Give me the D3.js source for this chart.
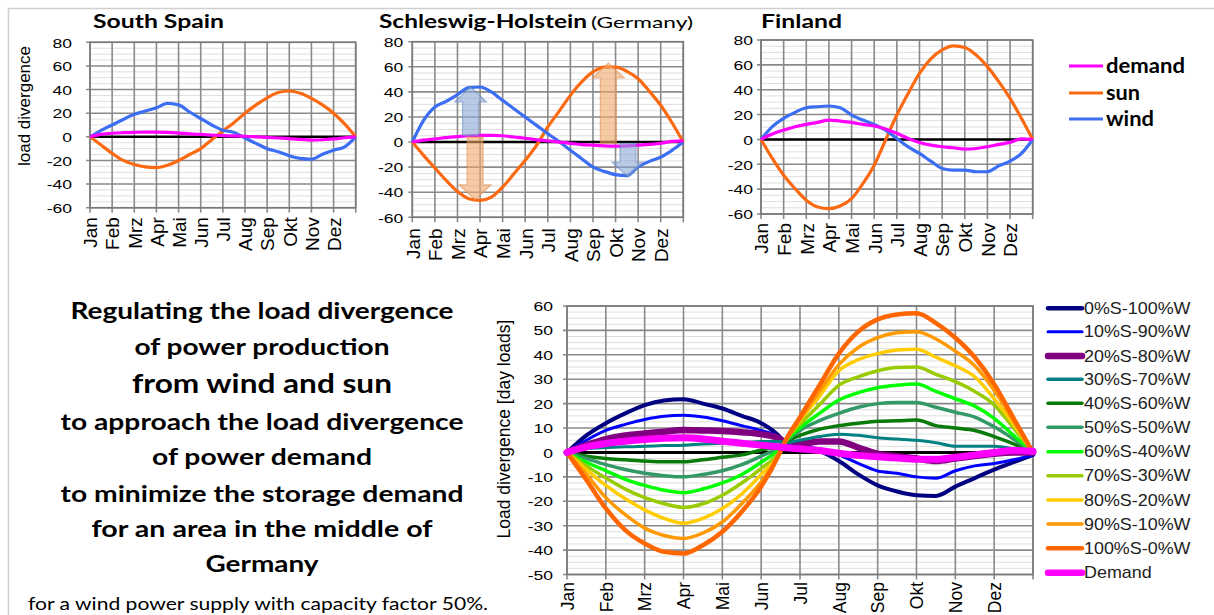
<!DOCTYPE html>
<html><head><meta charset="utf-8">
<script src="https://cdn.jsdelivr.net/npm/d3@7"></script>
<style>body{margin:0;background:#fff;overflow:hidden}svg{display:block}</style>
</head><body>
<script>
// ---------------- DATA ----------------
const monthLabels = ["Jan","Feb","Mrz","Apr","Mai","Jun","Jul","Aug","Sep","Okt","Nov","Dez"];
const topTicks = [80,60,40,20,0,-20,-40,-60];
const bottomTicks = [60,50,40,30,20,10,0,-10,-20,-30,-40,-50];
const topMonths = [0,0.5,1,1.5,2,2.5,3,3.5,4,4.5,5,5.5,6,6.5,7,7.5,8,8.5,9,9.5,10,10.5,11,11.5,12];
const topSeriesNames = ["demand","sun","wind"];

const spainDemand = [0,2,3,3.5,3.8,4,4,3.8,3.2,2.5,2,1.5,1,0.8,0.5,0,-0.5,-1,-1.5,-2.2,-2.8,-2.5,-1.8,-0.8,0];
const spainSun    = [0,-7,-14,-20,-23.5,-25.5,-26,-24,-20,-15,-10,-2.5,5,12,20,27,33,37.5,38.8,36.8,32.5,27,20,11,0];
const spainWind   = [0,5.5,10,14.7,19,21.8,24.6,28.3,27,21,15.5,10,5.6,3.7,-1,-5.6,-10,-12.7,-16,-18.3,-19,-14.7,-11.3,-8.5,0];

const shDemand = [0,1.5,2.5,3.5,4.3,5,5.3,5.3,5,4,3,1.8,1,0,-1,-2,-2.5,-3,-3.2,-3,-2.5,-1.8,-1,0.5,1];
const shSun    = [0,-10.6,-20.7,-30.6,-39.4,-45.2,-46.5,-43.9,-35.9,-25.3,-14.6,-2.7,12,24.5,37.2,47.9,55.9,59.8,59.8,56.4,50.5,40.4,29.3,15.4,0];
const shWind   = [0,17.3,28,32.4,37.8,43.4,43.9,39.9,33.2,26.6,19.9,13.3,6.6,0.5,-6.6,-13.3,-19.9,-23.4,-26,-26.8,-19.9,-15.4,-12,-6.6,0];

const finDemand = [0,4.3,7.5,10.2,12.1,13.7,15.6,14.8,13.7,12.1,10.8,8.4,4.9,0.8,-2.4,-4.6,-5.9,-6.7,-7.8,-7.3,-5.9,-4,-2.4,0.5,0];
const finSun    = [0,-15.3,-28.8,-39.5,-48.9,-54.3,-55.6,-53.5,-47.6,-35.5,-20.7,-0.5,19.6,37,53.2,64.8,72,75.3,74,68,58.6,46.5,33,17,0];
const finWind   = [0,10.3,17,21.8,25.5,26.3,26.9,25.5,19.6,15.6,12,7.5,0.8,-6,-11.3,-17.5,-23.4,-24.7,-24.7,-26,-26,-21.3,-17.5,-11.3,0];

// arrows in the Schleswig-Holstein panel: month position, start value, end value, kind
const shArrows = [
  {month:2.58, from:5,  to:44,  kind:"wind"},
  {month:2.78, from:4,  to:-46, kind:"sun"},
  {month:8.68, from:-1, to:63,  kind:"sun"},
  {month:9.55, from:-1, to:-28, kind:"wind"}
];

const mixMonths = [0,0.5,1,1.5,2,2.5,3,3.5,4,4.5,5,5.5,5.6,6,6.5,7,7.5,8,8.5,9,9.5,10,10.5,11,11.5,12];
const mixNames = ["0%S-100%W","10%S-90%W","20%S-80%W","30%S-70%W","40%S-60%W","50%S-50%W","60%S-40%W","70%S-30%W","80%S-20%W","90%S-10%W","100%S-0%W","Demand"];
const mix0   = [0,7,12,16,19.4,21.3,21.8,20,18,15,12,6,4,2,0.5,-3.5,-9,-13.5,-16,-17.5,-17.8,-14,-10.5,-7,-4,-1];
const mix10  = [0,5,9,11.5,13.5,14.8,15.2,14.5,13,11,9,6,4,2.5,1.5,-1,-4.5,-7.6,-8.5,-10,-10.6,-7.5,-5.5,-4.5,-3,-1];
const mix20  = [0,3,5.5,7,7.8,8.5,9.2,9,8.8,8.3,7.5,5.5,4,3.5,4.5,4.5,2,-0.5,-1.5,-2.5,-3.5,-2.5,-1.5,-0.5,0,0];
const mix30  = [0,1.5,2,2.3,2.5,2.8,3,3.5,3.8,4,4.5,4.5,4,5,6.5,7.5,7,6,5.5,5,4,2.5,2.5,2.5,1.5,0];
const mix40  = [0,-1.5,-2.5,-3,-3.5,-3.8,-3.8,-3,-2,-1,1,3,4,7,9.5,11,12,12.8,13,13.3,11,10,9,6.5,3.5,0];
const mix50  = [0,-2.5,-5,-7,-8.5,-9.5,-10,-9,-7.5,-5,-1.5,2.5,4,9,13,16,18.5,20,20.5,20.5,18.5,16.5,14.5,10.5,5.5,0];
const mix60  = [0,-4,-7.5,-11,-13.5,-15.5,-16.5,-15,-12.5,-9,-4,2,4,10,16,21.5,24.5,26.5,27.5,28,25,22,19,14,7,0];
const mix70  = [0,-5.5,-10.5,-15,-18.5,-21,-22.5,-21,-17.5,-12.5,-6.5,1,4,11.5,19.5,27.5,31,33.5,34.8,35,32,29,25,19.5,10,0];
const mix80  = [0,-7,-13.5,-19,-23.5,-27,-29,-27,-23,-17,-9,0.5,4,13,23,33.5,38,40.5,42,42.3,39,35.5,31,22,11.5,0];
const mix90  = [0,-9,-18.5,-25.5,-31,-34,-35.2,-33,-28.5,-21,-12,0.5,4,13.5,25,36,43,47,49,49.5,46.5,41.5,35.5,25.5,13,0];
const mix100 = [0,-11.3,-22.9,-31.8,-37.3,-40.7,-41.4,-38,-32.5,-24.3,-14,0.5,4,14.5,27.5,40.5,49.5,54.5,56.5,57,53,47,39,28,14,0];
const mixDemand = [0,2.3,3.7,4.6,5.3,5.8,6,5.5,4.6,3.8,3,2.2,2,1.5,0.8,-0.3,-1.2,-1.8,-2.3,-2.8,-2.8,-2,-1,0,0.8,0.5];

const textLines = ["Regulating the load divergence","of power production","from wind and sun","to approach the load divergence","of power demand","to minimize the storage demand","for an area in the middle of","Germany"];
const footnote = "for a wind power supply with capacity factor 50%.";

// ---------------- STYLES ----------------
const topColors = {demand:"#ff00ff", sun:"#fb6a12", wind:"#3b6ef2"};
const mixColors = ["#000080","#0000ff","#800080","#008080","#0a7a0a","#339966","#00ff00","#99cc00","#ffcc00","#ff9900","#ff6600","#ff00ff"];
const mixWidths = [4,3,6.5,3,3.5,3.5,3.5,3.5,3.5,3.5,4.5,7];
const legWidths = [4.5,3,6.5,3.5,3.5,3.5,3.5,3.5,3.5,3.5,4.5,6.5];
const FONT = "'Liberation Sans', Arial, sans-serif";
const TFONT = "Lato, 'Open Sans', sans-serif";

// ---------------- DRAW ----------------
const W = 1214, H = 615;
const svg = d3.select("body").append("svg").attr("width", W).attr("height", H);
svg.append("rect").attr("width", W).attr("height", H).attr("fill", "#fff");
svg.append("path").attr("d", "M8.5,615V8.5H1214").attr("fill", "none").attr("stroke", "#cfcfcf").attr("stroke-width", 1.5);

function panel(o) {
  const x = d3.scaleLinear().domain([0, 12]).range([o.left, o.right]);
  const y = d3.scaleLinear().domain(o.yDomain).range([o.bottom, o.top]);
  const g = svg.append("g");
  const minor = d3.range(o.yDomain[0], o.yDomain[1] + 0.001, o.minorStep).filter(v => !o.ticks.includes(v));
  g.selectAll(null).data(minor).join("line")
    .attr("x1", o.left).attr("x2", o.right).attr("y1", d => y(d)).attr("y2", d => y(d))
    .attr("stroke", "#dedede").attr("stroke-width", 1);
  g.selectAll(null).data(o.ticks).join("line")
    .attr("x1", o.left - 4).attr("x2", o.right).attr("y1", d => y(d)).attr("y2", d => y(d))
    .attr("stroke", "#8a8a8a").attr("stroke-width", 1.6);
  g.selectAll(null).data(d3.range(0, 13)).join("line")
    .attr("x1", d => x(d)).attr("x2", d => x(d)).attr("y1", o.top).attr("y2", o.bottom + 5)
    .attr("stroke", "#8a8a8a").attr("stroke-width", 1.6);
  g.append("rect").attr("x", o.left).attr("y", o.top).attr("width", o.right - o.left).attr("height", o.bottom - o.top)
    .attr("fill", "none").attr("stroke", "#7a7a7a").attr("stroke-width", 1.6);

  const ya = g.append("g").attr("transform", `translate(${o.left},0)`)
    .call(d3.axisLeft(y).tickValues(o.ticks).tickFormat(d => String(d)).tickSize(0).tickPadding(0));
  ya.select(".domain").remove();
  ya.selectAll("text").attr("x", 0).attr("dy", "0.35em")
    .attr("transform", `translate(${-o.tickGap},0) scale(${o.tickStretch},1)`)
    .attr("font-size", o.tickFont).attr("font-family", FONT).attr("fill", "#000")
    .attr("text-anchor", "end");

  const xa = g.append("g").attr("transform", `translate(0,${o.bottom})`)
    .call(d3.axisBottom(x).tickValues(d3.range(0, 12)).tickFormat(i => monthLabels[i]).tickSize(0));
  xa.select(".domain").remove();
  xa.selectAll("text").attr("transform", "rotate(-90)").attr("text-anchor", "end")
    .attr("x", -o.monthGap).attr("y", 0).attr("dy", "0.36em")
    .attr("font-size", o.monthFont).attr("font-family", FONT).attr("fill", "#000");

  g.append("line").attr("x1", x(0)).attr("x2", x(12)).attr("y1", y(0)).attr("y2", y(0))
    .attr("stroke", "#000").attr("stroke-width", o.zeroWidth);
  return {x, y, g};
}

function drawTop(o, demand, sun, wind, arrows) {
  const p = panel(o);
  const line = d3.line().x((d, i) => p.x(topMonths[i])).y(d => p.y(d)).curve(d3.curveMonotoneX);
  [["sun", sun], ["wind", wind], ["demand", demand]].forEach(([k, v]) => {
    p.g.append("path").attr("d", line(v)).attr("fill", "none")
      .attr("stroke", topColors[k]).attr("stroke-width", 3.2).attr("stroke-linejoin", "round");
  });
  if (arrows) {
    arrows.forEach(a => {
      const xc = p.x(a.month), y0 = p.y(a.from), y1 = p.y(a.to);
      const dir = Math.sign(y1 - y0), sw = 8, hw = 16, hl = 15;
      const hb = y1 - dir * hl;
      const pts = [[xc - sw, y0], [xc - sw, hb], [xc - hw, hb], [xc, y1], [xc + hw, hb], [xc + sw, hb], [xc + sw, y0]];
      const col = a.kind === "sun" ? {f: "#f2a76a", s: "#e2894a"} : {f: "#8aa7d6", s: "#6384bd"};
      p.g.append("path").attr("d", "M" + pts.map(q => q.join(",")).join("L") + "Z")
        .attr("fill", col.f).attr("fill-opacity", 0.6).attr("stroke", col.s).attr("stroke-opacity", 0.55).attr("stroke-width", 1.2);
    });
  }
  return p;
}

const topCommon = {yDomain: [-60, 80], ticks: topTicks, minorStep: 5, tickFont: 13.5, tickStretch: 1.3, monthFont: 19, zeroWidth: 2.5};
drawTop(Object.assign({}, topCommon, {left: 90, right: 355.7, top: 42.3, bottom: 207.7, tickGap: 18, monthGap: 9.5}), spainDemand, spainSun, spainWind);
drawTop(Object.assign({}, topCommon, {left: 412.3, right: 683.3, top: 41.7, bottom: 217.3, tickGap: 9, monthGap: 11}), shDemand, shSun, shWind, shArrows);
drawTop(Object.assign({}, topCommon, {left: 761, right: 1032.7, top: 40, bottom: 214, tickGap: 8, monthGap: 9}), finDemand, finSun, finWind);

// titles
function ttext(str, x, yb, size, weight, len) {
  const t = svg.append("text").attr("x", x).attr("y", yb).attr("font-family", TFONT)
    .attr("font-size", size).attr("font-weight", weight).attr("fill", "#000").text(str);
  if (len) t.attr("textLength", len).attr("lengthAdjust", "spacingAndGlyphs");
  return t;
}
ttext("South Spain", 93, 28, 19, 700, 131);
ttext("Schleswig-Holstein", 379, 28, 19, 700, 208);
ttext("(Germany)", 591, 28, 16, 400, 102);
ttext("Finland", 761, 28, 19, 700, 81);

svg.append("text").attr("transform", "translate(30,106) rotate(-90)").attr("text-anchor", "middle")
  .attr("font-family", FONT).attr("font-size", 17).text("load divergence");

// top legend
const legTopY = [66, 93, 119];
const legTopLen = [79, 34, 48];
topSeriesNames.forEach((n, i) => {
  svg.append("line").attr("x1", 1069).attr("x2", 1103).attr("y1", legTopY[i]).attr("y2", legTopY[i])
    .attr("stroke", topColors[n]).attr("stroke-width", 3);
  ttext(n, 1106, legTopY[i] + 6.5, 20, 700, legTopLen[i]);
});

// ---- bottom chart ----
const pb = panel({left: 567, right: 1033, top: 306, bottom: 574.5, yDomain: [-50, 60], ticks: bottomTicks, minorStep: 2.5,
  tickFont: 13, tickStretch: 1.35, tickGap: 14, monthFont: 17.5, monthGap: 7.5, zeroWidth: 3});
const mixSeries = [mix0, mix10, mix20, mix30, mix40, mix50, mix60, mix70, mix80, mix90, mix100, mixDemand];
const mline = d3.line().x((d, i) => pb.x(mixMonths[i])).y(d => pb.y(d)).curve(d3.curveMonotoneX);
mixSeries.forEach((v, i) => {
  pb.g.append("path").attr("d", mline(v)).attr("fill", "none").attr("stroke", mixColors[i])
    .attr("stroke-width", mixWidths[i]).attr("stroke-linejoin", "round").attr("stroke-linecap", "round");
});
svg.append("text").attr("transform", "translate(510,429) rotate(-90)").attr("text-anchor", "middle")
  .attr("font-family", FONT).attr("font-size", 17.5).text("Load divergence [day loads]");

// bottom legend
const legY = [308.3, 331.7, 356, 379.3, 403.3, 427.3, 451.7, 475.7, 500, 524, 548.3, 572.7];
mixNames.forEach((n, i) => {
  svg.append("line").attr("x1", 1048).attr("x2", 1082).attr("y1", legY[i]).attr("y2", legY[i])
    .attr("stroke", mixColors[i]).attr("stroke-width", legWidths[i]).attr("stroke-linecap", "round");
  svg.append("text").attr("transform", `translate(1084,${legY[i]}) scale(1.12,1)`).attr("dy", "0.36em")
    .attr("font-family", FONT).attr("font-size", 16).attr("fill", "#222").text(n);
});

// text block
const tbBase = [319, 355, 393, 430, 465, 502, 537, 572];
const tbSize = [23, 23, 26, 23, 23, 23, 23, 23];
const tbLen = [383, 255, 260, 403, 220, 403, 341, 113];
textLines.forEach((s, i) => {
  ttext(s, 262, tbBase[i], tbSize[i], 700, tbLen[i]).attr("text-anchor", "middle");
});
ttext(footnote, 28, 610, 17, 400, 460);
</script>
</body></html>
